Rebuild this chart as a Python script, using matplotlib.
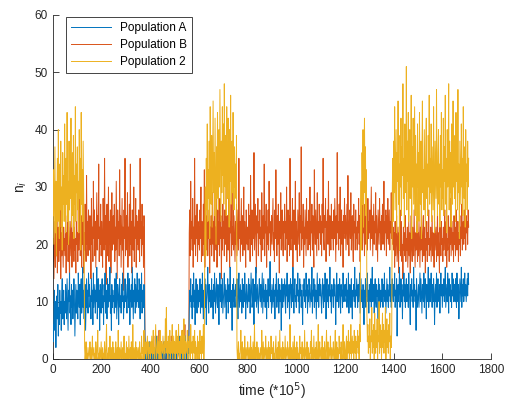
import numpy as np
import matplotlib
matplotlib.use('Agg')
import matplotlib.pyplot as plt

# values, one every 2 time units (t = 0, 2, ..., 1708)
# each row below covers 50 time units
step = 2

pop_a = [
    6, 3, 9, 12, 5, 10, 2, 8, 11, 7, 13, 4, 9, 6, 12, 8, 10, 5, 11, 14, 7, 9, 12, 6, 10,
    8, 13, 11, 7, 14, 9, 5, 12, 10, 15, 8, 11, 6, 13, 9, 12, 7, 10, 14, 11, 4, 9, 13, 8, 12,
    10, 7, 15, 11, 9, 13, 6, 12, 14, 8, 10, 16, 9, 12, 7, 11, 13, 5, 10, 14, 9, 12, 8, 15, 11,
    13, 9, 11, 7, 14, 10, 12, 6, 15, 9, 11, 13, 8, 12, 10, 16, 7, 11, 14, 9, 12, 5, 13, 10, 8,
    12, 14, 9, 11, 6, 13, 10, 15, 8, 12, 11, 7, 14, 9, 13, 10, 12, 16, 8, 11, 5, 13, 9, 12, 10,
    11, 8, 14, 12, 9, 15, 7, 10, 13, 11, 6, 12, 14, 9, 11, 8, 13, 10, 15, 12, 7, 11, 9, 14, 10,
    13, 10, 8, 12, 15, 9, 11, 14, 6, 12, 10, 13, 9, 16, 11, 7, 12, 10, 14, 8, 13, 11, 9, 15, 10,
    12, 9, 14, 11, 7, 13, 10, 15, 8, 12, 11, 9, 13, 10, 3, 1, 0, 2, 1, 0, 2, 1, 0, 3, 1,
    0, 1, 2, 0, 1, 3, 0, 2, 1, 0, 1, 2, 0, 4, 1, 0, 2, 1, 0, 3, 1, 0, 2, 1, 0,
    1, 2, 0, 3, 1, 0, 4, 2, 1, 0, 2, 1, 3, 0, 1, 2, 0, 1, 0, 2, 1, 3, 0, 1, 2,
    0, 1, 2, 0, 3, 1, 0, 2, 1, 4, 0, 1, 2, 0, 1, 3, 2, 0, 1, 0, 2, 1, 4, 1, 0,
    1, 2, 0, 3, 1, 8, 12, 10, 14, 9, 11, 7, 13, 10, 15, 9, 12, 6, 11, 14, 10, 8, 13, 11, 9,
    12, 10, 14, 8, 11, 13, 9, 15, 10, 7, 12, 11, 14, 9, 13, 6, 10, 12, 16, 11, 8, 13, 10, 12, 9,
    11, 14, 9, 12, 7, 13, 10, 15, 11, 8, 12, 14, 10, 9, 13, 11, 6, 12, 15, 10, 13, 9, 11, 14, 8,
    10, 12, 15, 9, 11, 13, 7, 12, 10, 14, 8, 11, 13, 10, 16, 9, 12, 11, 5, 13, 10, 14, 9, 12, 11,
    13, 9, 11, 14, 10, 7, 12, 15, 9, 11, 13, 10, 12, 8, 14, 11, 9, 13, 10, 15, 12, 7, 11, 13, 10,
    9, 12, 14, 10, 13, 8, 11, 15, 12, 9, 10, 14, 11, 6, 13, 10, 12, 16, 9, 11, 13, 10, 8, 12, 14,
    11, 10, 13, 9, 12, 15, 8, 11, 14, 10, 12, 9, 13, 11, 7, 12, 10, 14, 9, 13, 11, 17, 10, 12, 8,
    13, 11, 9, 14, 10, 12, 7, 13, 11, 15, 9, 12, 10, 14, 8, 11, 13, 10, 12, 5, 14, 11, 9, 13, 10,
    12, 14, 10, 8, 13, 11, 15, 9, 12, 10, 13, 7, 11, 14, 12, 9, 13, 10, 16, 11, 8, 12, 14, 10, 11,
    9, 13, 11, 15, 10, 12, 8, 14, 11, 13, 9, 12, 10, 6, 13, 11, 14, 10, 12, 9, 15, 11, 13, 8, 12,
    10, 14, 12, 9, 11, 13, 10, 16, 8, 12, 11, 14, 9, 13, 10, 12, 7, 11, 15, 10, 13, 9, 12, 14, 11,
    13, 10, 8, 12, 14, 11, 9, 13, 10, 15, 12, 7, 11, 14, 10, 12, 9, 13, 11, 16, 10, 12, 8, 13, 11,
    12, 9, 14, 11, 13, 10, 6, 12, 15, 10, 11, 13, 9, 12, 14, 10, 8, 13, 11, 12, 9, 15, 10, 13, 11,
    10, 13, 11, 14, 9, 12, 10, 15, 8, 11, 13, 12, 9, 14, 10, 7, 12, 11, 13, 10, 16, 9, 12, 11, 14,
    11, 9, 13, 10, 12, 15, 8, 11, 14, 10, 12, 9, 13, 11, 6, 12, 10, 14, 9, 13, 11, 15, 10, 12, 8,
    13, 11, 10, 14, 9, 12, 16, 10, 11, 13, 8, 12, 14, 10, 9, 13, 11, 12, 7, 14, 10, 13, 11, 9, 12,
    10, 14, 12, 9, 13, 11, 15, 10, 12, 8, 11, 14, 10, 13, 9, 12, 11, 16, 10, 13, 9, 12, 14, 11, 10,
    13, 11, 15, 9, 12, 10, 14, 4, 11, 13, 10, 12, 16, 9, 11, 14, 10, 13, 7, 12, 11, 15, 10, 13, 9,
    12, 14, 10, 11, 13, 9, 15, 12, 10, 6, 13, 11, 14, 10, 12, 9, 16, 11, 13, 10, 12, 5, 14, 11, 9,
    11, 13, 9, 12, 15, 10, 14, 11, 8, 13, 12, 10, 15, 9, 11, 14, 12, 7, 13, 10, 11, 16, 9, 12, 14,
    10, 12, 15, 11, 9, 13, 10, 14, 12, 6, 11, 13, 10, 15, 9, 12, 14, 11, 10, 13, 8, 12, 15, 11, 13,
    9, 13, 11, 14, 10, 12, 16, 9, 11, 13, 10, 15, 12, 8, 14, 11, 13, 10, 12, 9, 15, 11, 14, 10, 12,
    13, 10, 14, 11, 9, 15, 12, 10, 13, 7, 11, 14, 12, 10, 16, 9, 13, 11, 14, 10, 12, 15, 11, 13, 10,
    12, 14, 11, 15, 13,
]

pop_b = [
    17, 21, 14, 19, 24, 16, 22, 18, 25, 15, 20, 23, 17, 21, 19, 26, 14, 22, 18, 24, 20, 16, 23, 19, 21,
    18, 25, 15, 22, 20, 27, 17, 23, 19, 14, 24, 21, 18, 26, 16, 22, 20, 25, 17, 23, 19, 21, 15, 24, 20,
    22, 17, 26, 19, 23, 30, 18, 21, 25, 16, 24, 20, 28, 15, 22, 19, 27, 21, 17, 32, 20, 24, 18, 26, 21,
    19, 25, 22, 14, 28, 20, 23, 17, 31, 21, 26, 18, 24, 16, 22, 29, 19, 25, 21, 34, 17, 23, 20, 27, 18,
    24, 21, 16, 28, 22, 19, 35, 20, 25, 13, 23, 27, 18, 22, 30, 17, 24, 20, 26, 15, 21, 29, 19, 23, 25,
    20, 27, 17, 23, 19, 31, 22, 14, 26, 21, 24, 18, 33, 20, 25, 16, 22, 28, 19, 23, 12, 26, 21, 35, 18,
    22, 25, 19, 29, 16, 23, 21, 27, 18, 34, 20, 24, 15, 26, 22, 19, 30, 17, 23, 21, 28, 16, 25, 20, 24,
    19, 26, 22, 17, 35, 21, 24, 18, 27, 20, 23, 16, 25, 21, 4, 1, 2, 0, 1, 3, 0, 2, 1, 0, 2,
    1, 0, 3, 1, 2, 0, 1, 4, 0, 2, 1, 0, 3, 1, 0, 2, 1, 0, 5, 1, 2, 0, 1, 3, 0,
    2, 1, 0, 3, 1, 0, 2, 6, 1, 0, 2, 1, 0, 3, 1, 2, 0, 1, 4, 0, 2, 1, 0, 1, 3,
    0, 2, 1, 0, 3, 1, 0, 2, 4, 1, 0, 2, 1, 3, 0, 1, 5, 2, 0, 1, 3, 6, 1, 0, 2,
    1, 0, 3, 1, 2, 22, 26, 18, 31, 21, 24, 19, 28, 16, 23, 20, 35, 22, 18, 25, 21, 27, 17, 24, 20,
    23, 19, 26, 21, 30, 17, 24, 22, 18, 27, 20, 33, 16, 23, 25, 19, 22, 28, 18, 24, 21, 26, 15, 23, 20,
    25, 18, 22, 29, 20, 24, 17, 27, 21, 23, 19, 32, 16, 22, 26, 20, 24, 18, 28, 21, 25, 14, 23, 19, 27,
    21, 24, 18, 26, 22, 20, 31, 17, 23, 25, 19, 28, 21, 16, 24, 22, 27, 18, 23, 20, 33, 19, 25, 21, 17,
    24, 20, 27, 18, 22, 26, 19, 35, 21, 24, 17, 23, 28, 20, 25, 18, 22, 30, 19, 24, 21, 16, 26, 22, 20,
    23, 19, 27, 21, 25, 17, 32, 22, 20, 26, 18, 24, 21, 36, 19, 23, 27, 20, 15, 25, 22, 28, 18, 24, 21,
    26, 20, 23, 17, 29, 22, 19, 25, 21, 34, 18, 24, 22, 27, 16, 23, 20, 26, 19, 31, 22, 24, 18, 21, 25,
    20, 24, 28, 19, 22, 17, 26, 21, 33, 23, 18, 25, 20, 27, 22, 15, 24, 21, 29, 19, 23, 26, 20, 18, 24,
    22, 27, 19, 24, 21, 30, 17, 23, 26, 20, 25, 18, 35, 22, 19, 24, 21, 28, 16, 23, 26, 20, 22, 31, 19,
    24, 21, 17, 26, 23, 20, 29, 18, 25, 22, 37, 19, 24, 21, 27, 16, 23, 20, 26, 22, 18, 28, 21, 24, 19,
    23, 26, 20, 30, 18, 24, 22, 27, 19, 25, 21, 16, 33, 23, 20, 26, 22, 18, 29, 21, 24, 19, 27, 22, 25,
    20, 24, 18, 27, 22, 35, 21, 19, 25, 23, 28, 17, 24, 21, 26, 20, 31, 22, 18, 25, 23, 19, 27, 21, 24,
    22, 19, 26, 21, 28, 23, 17, 25, 20, 36, 22, 24, 19, 27, 21, 30, 18, 23, 26, 20, 24, 16, 25, 22, 28,
    21, 25, 19, 23, 27, 20, 32, 22, 18, 24, 26, 21, 29, 19, 23, 25, 20, 17, 27, 22, 24, 19, 26, 21, 23,
    19, 24, 22, 28, 20, 25, 17, 23, 26, 21, 30, 19, 24, 22, 27, 18, 23, 25, 20, 26, 22, 19, 28, 21, 24,
    22, 26, 19, 24, 30, 21, 25, 18, 23, 27, 20, 24, 22, 29, 19, 25, 21, 17, 26, 23, 20, 28, 22, 24, 19,
    25, 21, 27, 20, 23, 31, 19, 24, 22, 26, 18, 25, 21, 28, 20, 23, 26, 19, 24, 22, 29, 21, 25, 20, 23,
    19, 22, 16, 24, 18, 21, 25, 17, 20, 23, 15, 22, 19, 26, 18, 21, 24, 17, 20, 14, 23, 19, 22, 18, 25,
    17, 21, 19, 23, 16, 20, 24, 18, 22, 15, 21, 25, 19, 17, 23, 20, 18, 26, 21, 16, 22, 19, 24, 20, 17,
    22, 18, 24, 20, 16, 23, 19, 27, 21, 17, 22, 25, 18, 20, 23, 15, 21, 19, 24, 17, 22, 20, 26, 18, 21,
    19, 23, 17, 21, 25, 18, 22, 20, 16, 24, 19, 21, 23, 17, 20, 26, 18, 22, 19, 15, 23, 21, 18, 24, 20,
    21, 17, 23, 19, 22, 26, 18, 20, 24, 16, 21, 19, 25, 22, 17, 23, 20, 28, 18, 21, 24, 19, 22, 17, 25,
    20, 23, 18, 22, 26, 19, 21, 24, 17, 22, 20, 25, 18, 23, 21, 27, 19, 22, 24, 20, 26, 21, 23, 19, 25,
    22, 24, 20, 26, 23,
]

pop_2 = [
    25, 33, 20, 29, 37, 22, 31, 18, 27, 35, 24, 40, 28, 21, 34, 26, 38, 23, 30, 19, 36, 27, 32, 24, 41,
    29, 22, 35, 27, 43, 24, 31, 20, 38, 26, 33, 28, 42, 23, 30, 36, 25, 39, 21, 32, 27, 44, 24, 34, 29,
    37, 26, 31, 22, 40, 28, 35, 19, 43, 27, 33, 24, 38, 29, 21, 2, 0, 1, 3, 0, 1, 0, 2, 1, 0,
    1, 3, 0, 2, 0, 1, 4, 0, 1, 2, 0, 1, 0, 3, 1, 0, 2, 5, 0, 1, 0, 2, 1, 0, 3,
    0, 1, 2, 0, 1, 0, 3, 1, 0, 2, 6, 0, 1, 0, 2, 1, 0, 4, 1, 0, 2, 0, 1, 3, 0,
    2, 0, 1, 0, 3, 1, 0, 2, 0, 5, 1, 0, 2, 1, 0, 3, 0, 1, 2, 0, 1, 4, 0, 1, 0,
    1, 3, 0, 2, 1, 0, 4, 0, 1, 2, 0, 3, 1, 0, 6, 1, 0, 2, 0, 1, 3, 0, 2, 1, 0,
    2, 0, 1, 3, 0, 1, 0, 4, 1, 2, 0, 1, 5, 0, 2, 1, 3, 0, 2, 4, 1, 0, 3, 1, 2,
    0, 3, 1, 4, 2, 0, 5, 1, 2, 0, 3, 6, 1, 0, 2, 4, 1, 3, 0, 2, 5, 1, 0, 3, 2,
    1, 4, 2, 0, 3, 1, 7, 2, 9, 1, 3, 0, 4, 2, 1, 5, 0, 2, 3, 1, 6, 0, 2, 4, 1,
    3, 0, 2, 5, 1, 4, 0, 2, 6, 1, 3, 0, 4, 2, 1, 5, 3, 0, 2, 7, 1, 4, 0, 3, 2,
    1, 5, 0, 3, 2, 4, 1, 0, 6, 2, 1, 3, 0, 4, 2, 1, 5, 0, 3, 1, 2, 0, 4, 1, 3,
    0, 2, 5, 1, 3, 0, 4, 1, 2, 6, 0, 3, 22, 30, 18, 35, 26, 41, 24, 33, 28, 38, 21, 44, 31,
    27, 39, 23, 34, 45, 29, 36, 25, 42, 31, 20, 37, 28, 43, 33, 26, 40, 30, 47, 35, 24, 38, 29, 44, 32,
    41, 27, 48, 34, 30, 39, 25, 44, 33, 28, 42, 36, 23, 40, 31, 46, 27, 35, 38, 29, 43, 32, 26, 37, 30,
    34, 28, 39, 2, 0, 1, 3, 0, 1, 0, 2, 5, 1, 0, 3, 1, 0, 2, 0, 4, 1, 0, 2, 1, 0,
    3, 1, 0, 2, 0, 1, 4, 0, 2, 1, 0, 3, 0, 1, 6, 0, 2, 1, 0, 3, 1, 0, 2, 0, 1,
    0, 2, 1, 0, 5, 1, 0, 3, 0, 2, 1, 0, 4, 1, 0, 2, 0, 1, 3, 0, 2, 1, 0, 4, 1,
    2, 0, 1, 3, 0, 1, 0, 2, 4, 0, 1, 2, 0, 3, 1, 0, 5, 0, 1, 2, 0, 1, 3, 0, 2,
    1, 0, 4, 0, 2, 1, 0, 3, 1, 0, 2, 0, 6, 1, 0, 2, 1, 0, 3, 0, 1, 4, 0, 2, 0,
    1, 3, 0, 2, 0, 1, 0, 4, 1, 2, 0, 1, 3, 0, 2, 1, 0, 5, 0, 1, 2, 0, 3, 1, 0,
    2, 0, 1, 0, 3, 1, 5, 0, 2, 1, 0, 4, 0, 1, 2, 0, 3, 1, 0, 2, 6, 0, 1, 3, 0,
    1, 2, 0, 4, 1, 0, 2, 0, 3, 1, 0, 2, 5, 0, 1, 3, 0, 2, 1, 0, 4, 1, 0, 2, 1,
    0, 3, 1, 0, 2, 5, 0, 1, 3, 0, 2, 1, 0, 4, 1, 2, 0, 3, 1, 0, 2, 6, 1, 0, 3,
    1, 0, 2, 4, 0, 3, 1, 5, 2, 0, 3, 1, 6, 0, 2, 4, 1, 3, 0, 5, 2, 1, 4, 0, 3,
    2, 5, 1, 4, 0, 6, 3, 24, 31, 19, 36, 27, 40, 23, 34, 42, 29, 37, 25, 33, 8, 3, 6, 1, 4,
    2, 7, 0, 4, 3, 9, 1, 5, 2, 6, 0, 8, 3, 1, 5, 2, 7, 0, 4, 3, 10, 1, 6, 2, 5,
    0, 4, 8, 2, 6, 1, 5, 3, 9, 0, 4, 7, 2, 5, 1, 6, 3, 8, 0, 4, 2, 5, 28, 35, 24,
    38, 29, 44, 26, 33, 40, 22, 36, 31, 45, 27, 34, 19, 39, 30, 42, 25, 37, 32, 48, 28, 35, 23, 41, 33,
    29, 51, 26, 38, 31, 43, 24, 36, 40, 28, 33, 46, 21, 37, 30, 42, 27, 35, 44, 25, 39, 31, 34, 22, 41,
    30, 36, 24, 43, 32, 27, 38, 21, 35, 45, 29, 33, 26, 40, 31, 23, 37, 42, 28, 34, 25, 39, 30, 46, 27,
    35, 29, 41, 24, 37, 32, 26, 44, 30, 22, 38, 33, 28, 47, 31, 25, 36, 40, 27, 34, 23, 39, 30, 43, 26,
    33, 28, 42, 25, 37, 31, 46, 27, 35, 22, 40, 30, 34, 48, 26, 38, 29, 36, 23, 41, 32, 27, 45, 30, 35,
    28, 39, 24, 43, 31, 36, 26, 47, 29, 34, 21, 38, 32, 27, 41, 30, 35, 25, 44, 33, 28, 37, 23, 40, 31,
    34, 26, 38, 30, 35,
]

labels = ['Population A', 'Population B', 'Population 2']
colors = ['#0072BD', '#D95319', '#EDB120']

plt.rcParams['font.family'] = ['Liberation Sans', 'DejaVu Sans']
dark = '#262626'

fig = plt.figure(figsize=(5.06, 4.04), dpi=100)
ax = fig.add_axes([0.1047, 0.1114, 0.8657, 0.8515])

for vals, lab, col, z in zip([pop_a, pop_b, pop_2], labels, colors, [3, 2, 4]):
    t = np.arange(len(vals)) * step
    ax.plot(t, vals, color=col, linewidth=0.7, label=lab, zorder=z)

ax.set_xlim(0, 1800)
ax.set_ylim(0, 60)
ax.set_xticks(np.arange(0, 1801, 200))
ax.set_yticks(np.arange(0, 61, 10))
ax.spines['top'].set_visible(False)
ax.spines['right'].set_visible(False)
for s in ['left', 'bottom']:
    ax.spines[s].set_color(dark)
    ax.spines[s].set_linewidth(0.6)
ax.tick_params(direction='in', length=4, width=0.6, colors=dark, labelsize=8.5)

ax.set_xlabel('time (*10$^5$)', fontsize=10, color=dark, labelpad=3)
ax.set_ylabel('n$_i$', fontsize=10, color=dark)

leg = ax.legend(loc='upper left', bbox_to_anchor=(0.03, 0.994), borderaxespad=0,
                fancybox=False, edgecolor=dark, framealpha=1, fontsize=8.5,
                handlelength=3.4, labelspacing=0.45)
leg.get_frame().set_linewidth(0.6)

fig.savefig('out.png', dpi=100)
